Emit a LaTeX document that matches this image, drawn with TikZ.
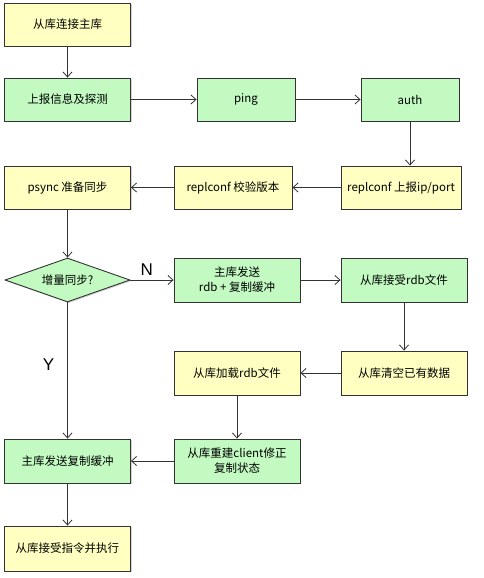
\documentclass[tikz,border=0pt]{standalone}
\usepackage{fontspec}
\setmainfont{Noto Sans CJK SC}
\newfontfamily\latinlab{Liberation Sans}
\usetikzlibrary{arrows.meta,shapes.geometric,shadows}
\definecolor{boxyellow}{HTML}{FFFFC2}
\definecolor{boxgreen}{HTML}{C2FAC2}
\definecolor{edgegray}{HTML}{333333}
\tikzset{
  base/.style={draw=edgegray, line width=0.9pt, align=center, font=\fontsize{11.5}{15}\selectfont,
    inner sep=0pt, drop shadow={opacity=0.35, shadow xshift=1.2pt, shadow yshift=-1.2pt}},
  ybox/.style={base, fill=boxyellow},
  gbox/.style={base, fill=boxgreen},
  conn/.style={draw=edgegray, line width=0.8pt, -{Straight Barb[length=5pt,width=9pt,line width=0.8pt]}},
  lab/.style={font=\latinlab\fontsize{17}{17}\selectfont}
}
\begin{document}
\begin{tikzpicture}[x=1pt,y=-1pt]
\useasboundingbox (0,0) rectangle (484,578);
\newcommand{\bx}[7]{\node[#1, minimum width=#4pt, minimum height=#5pt] (#2) at (#6,#7) {#3};}
% row 1
\bx{ybox}{b1}{从库连接主库}{126}{43}{67.5}{24.5}
% row 2
\bx{gbox}{b2}{上报信息及探测}{126}{43}{67.5}{99.5}
\bx{gbox}{ping}{ping}{98}{43}{246}{99.5}
\bx{gbox}{auth}{auth}{98}{43}{410}{99.5}
% row 3
\bx{ybox}{ip}{replconf 上报ip/port}{120}{43}{401}{187.5}
\bx{ybox}{ver}{replconf 校验版本}{118}{43}{233}{187.5}
\bx{ybox}{psync}{psync 准备同步}{126}{43}{67.5}{187.5}
% row 4
\node[draw=edgegray, line width=0.9pt, fill=boxgreen, diamond, aspect=2.84, inner sep=0pt,
  minimum width=125pt, minimum height=44pt, font=\fontsize{11.5}{15}\selectfont,
  drop shadow={opacity=0.35, shadow xshift=1.2pt, shadow yshift=-1.2pt}] (dia) at (67.5,280) {增量同步?};
\bx{gbox}{rdb}{主库发送\\rdb + 复制缓冲}{126}{44}{237}{280}
\bx{gbox}{recv}{从库接受rdb文件}{126}{44}{404}{280}
% row 5
\bx{ybox}{clear}{从库清空已有数据}{126}{44}{404}{373}
\bx{ybox}{load}{从库加载rdb文件}{126}{44}{237}{373}
% row 6
\bx{gbox}{send}{主库发送复制缓冲}{126}{44}{67.5}{461}
\bx{gbox}{rebuild}{从库重建client修正\\复制状态}{126}{44}{237}{461}
% row 7
\bx{ybox}{exec}{从库接受指令并执行}{126}{45}{67.5}{548.5}
% connectors
\draw[conn] (b1) -- (b2);
\draw[conn] (b2) -- (ping);
\draw[conn] (ping) -- (auth);
\draw[conn] (auth.south) -- (auth.south |- ip.north);
\draw[conn] (ip) -- (ver);
\draw[conn] (ver) -- (psync);
\draw[conn] (psync) -- (dia);
\draw[conn] (dia) -- node[lab, above, pos=0.38, yshift=1pt] {N} (rdb);
\draw[conn] (rdb) -- (recv);
\draw[conn] (recv) -- (clear);
\draw[conn] (clear) -- (load);
\draw[conn] (load) -- (rebuild);
\draw[conn] (rebuild) -- (send);
\draw[conn] (dia) -- node[lab, pos=0.46, xshift=-19pt] {Y} (send);
\draw[conn] (send) -- (exec);
\end{tikzpicture}
\end{document}
